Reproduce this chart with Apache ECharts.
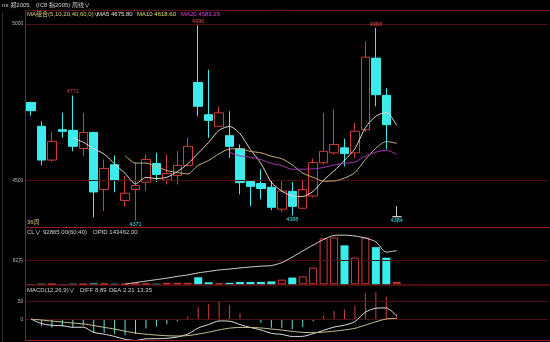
<!DOCTYPE html>
<html><head><meta charset="utf-8">
<script src="https://cdn.jsdelivr.net/npm/echarts@6/dist/echarts.min.js"></script>
<style>html,body{margin:0;padding:0;background:#000;overflow:hidden}#c{width:550px;height:342px;}</style>
</head><body><div id="c"></div>
<script>
// ---- data (weekly bars, 36 weeks) ----
const weeks = ['1','2','3','4','5','6','7','8','9','10','11','12','13','14','15','16','17','18','19','20','21','22','23','24','25','26','27','28','29','30','31','32','33','34','35','36'];
const opens  = [4749,4673,4565,4662,4660,4602,4653,4471,4550,4436,4471,4494,4554,4501,4516,4548,4813,4710,4673,4643,4601,4497,4490,4478,4408,4465,4411,4450,4556,4588,4604,4588,4662,4891,4772,4384];
const closes = [4723,4565,4625,4657,4609,4653,4463,4538,4500,4459,4484,4567,4519,4522,4548,4609,4737,4692,4716,4609,4493,4481,4474,4414,4466,4417,4471,4557,4593,4615,4586,4657,4894,4774,4678,4384];
const lows   = [4707,4548,4560,4637,4593,4577,4382,4402,4462,4417,4371,4466,4494,4487,4487,4546,4705,4636,4673,4572,4455,4418,4440,4405,4398,4388,4408,4445,4551,4583,4545,4573,4655,4737,4599,4384];
const highs  = [4752,4689,4656,4716,4771,4716,4656,4567,4580,4514,4557,4583,4588,4583,4593,4636,4996,4854,4737,4721,4615,4500,4535,4498,4498,4495,4503,4570,4716,4726,4633,4684,4944,4988,4795,4418];
const ma5  = ['-','-','-','-',4635.8,4621.8,4601.4,4584.0,4552.6,4522.6,4488.8,4509.6,4505.8,4510.2,4528.0,4553.0,4587.0,4621.6,4660.4,4672.6,4649.4,4598.2,4554.6,4494.2,4465.6,4450.4,4448.4,4465.0,4500.8,4530.6,4564.4,4601.6,4669.0,4705.2,4717.8,4675.8];
const ma10 = ['-','-','-','-','-','-','-','-','-',4579.2,4555.3,4555.5,4544.9,4531.4,4525.3,4520.9,4548.3,4563.7,4585.3,4600.3,4601.2,4592.6,4588.1,4577.3,4569.1,4549.9,4523.3,4509.8,4497.5,4498.1,4507.4,4525.0,4567.0,4603.0,4624.2,4618.6];
const ma20 = ['-','-','-','-','-','-','-','-','-','-','-','-','-','-','-','-','-','-','-',4589.75,4578.25,4574.05,4566.5,4554.35,4547.2,4535.4,4535.8,4536.75,4541.4,4549.2,4554.3,4558.8,4577.55,4590.15,4596.65,4583.25];
// volume (万) and open-interest line
const volumes = [1,2,1,1,2,1,3,2,2,1,2,2,2,5,5,5,24,7,3,5,8,8,8,10,16,23,27,57,157,160,133,91,160,127,91,8];
const openInt = ['-','-','-','-','-','-','-','-','-',1,6,11,16,21,27,32,39,44,49,52,56,59,62,64,74,93,114,134,153,167,168,165,158,145,110,115];
// MACD(12,26,9)
const diff = [0,-12.61,-17.56,-18.68,-23.18,-22.92,-37.62,-42.73,-49.27,-57.11,-60.60,-56.02,-55.62,-54.44,-50.82,-42.54,-25.36,-15.19,-5.14,-5.75,-15.41,-23.76,-30.59,-40.38,-43.44,-49.25,-48.94,-41.28,-31.93,-22.49,-17.15,-7.11,19.75,31.00,31.80,8.89];
const dea  = [0,-2.52,-5.53,-8.16,-11.17,-13.52,-18.34,-23.22,-28.43,-34.16,-39.45,-42.76,-45.33,-47.15,-47.88,-46.81,-42.52,-37.06,-30.68,-25.69,-23.63,-23.65,-25.04,-28.11,-31.18,-34.79,-37.62,-38.36,-37.08,-34.16,-30.76,-26.03,-16.87,-7.30,0.52,2.21];
const macd = [0,-20.18,-24.06,-21.04,-24.02,-18.80,-38.56,-39.02,-41.68,-45.90,-42.30,-26.52,-20.58,-14.58,-5.88,8.54,34.32,43.74,51.08,39.88,16.44,-0.22,-11.10,-24.54,-24.52,-28.92,-22.64,-5.84,10.30,23.34,27.22,37.84,73.24,76.60,62.56,13.35];
// tick labels
const priceTicks = [4500, 5000];
const volTicks = [82];
const macdTicks = [0, 50];
const highMarkIdx = [4, 16, 33];
const lowMarkIdx = [10, 25, 35];
const emptySlots = 14;

// ---- styles ----
const UP = '#d23c3c', DOWN = '#3cecec', GRIDC = '#4a1212', SEP = '#9a1a1a';
const FONT = "'Liberation Sans','Noto Sans CJK SC',sans-serif";
const axisCats = weeks.concat(Array.from({length: emptySlots}, (_, i) => 'e' + i));
const candleData = weeks.map((w, i) => [opens[i], closes[i], lows[i], highs[i]]);
const volData = volumes.map((v, i) => ({
  value: v,
  itemStyle: closes[i] >= opens[i] ? {color: '#000', borderColor: UP, borderWidth: 1} : {color: DOWN, borderColor: DOWN, borderWidth: 0}
}));
const macdData = macd.map(v => ({value: v, itemStyle: {color: v >= 0 ? UP : '#6cdcdc'}}));
const gridLine = vals => ({silent: true, symbol: 'none', label: {show: false}, lineStyle: {color: GRIDC, width: 1, type: 'solid'}, data: vals.map(v => ({yAxis: v}))});
const L = 25.78, W = 522.5;
const xAx = gi => ({type: 'category', gridIndex: gi, data: axisCats, boundaryGap: true, show: false});
const yAx = (gi, min, max, ticks, fmt) => ({type: 'value', gridIndex: gi, min, max, scale: true,
  axisLine: {show: false}, axisTick: {show: false}, splitLine: {show: false},
  axisLabel: {customValues: ticks, color: '#b8b8b8', fontSize: 5, margin: 2.5, fontFamily: FONT, formatter: fmt}});
const txt = (x, y, s, color) => ({type: 'text', x, y, silent: true, z: 100,
  style: {text: s, fill: color || '#d0d0d0', font: '6px ' + FONT, textVerticalAlign: 'middle'}});
const hline = (y, x1, color) => ({type: 'line', silent: true, z: 50, shape: {x1: x1, y1: y, x2: 550, y2: y}, style: {stroke: color, lineWidth: 1}});

const chart = echarts.init(document.getElementById('c'), null, {renderer: 'canvas'});
chart.setOption({
  backgroundColor: '#000',
  animation: false,
  grid: [
    {left: L, width: W, top: 8.4, height: 218.9},
    {left: L, width: W, top: 228.1, height: 56.2},
    {left: L, width: W, top: 284.3, height: 56.3}
  ],
  xAxis: [xAx(0), xAx(1), xAx(2)],
  yAxis: [
    yAx(0, 4350, 5050, priceTicks, v => String(v)),
    yAx(1, 0, 192, volTicks, v => v + '万'),
    yAx(2, -61, 99, macdTicks, v => String(v))
  ],
  series: [
    {type: 'candlestick', xAxisIndex: 0, yAxisIndex: 0, data: candleData, barWidth: 9,
     itemStyle: {color: '#000', color0: DOWN, borderColor: UP, borderColor0: DOWN, borderColorDoji: '#d0d0d0', borderWidth: 1},
     markLine: gridLine(priceTicks),
     markPoint: {symbol: 'circle', symbolSize: 0.1, silent: true,
       data: highMarkIdx.map(i => ({coord: [axisCats[i], highs[i]], value: highs[i], label: {position: 'top', distance: 1, color: '#e04848'}}))
         .concat(lowMarkIdx.map(i => ({coord: [axisCats[i], lows[i]], value: lows[i], label: {position: 'bottom', distance: 1, color: '#40e0e0'}}))),
       label: {show: true, fontSize: 5.5, fontFamily: FONT, formatter: p => p.value},
       itemStyle: {color: 'rgba(0,0,0,0)'}}},
    {type: 'line', xAxisIndex: 0, yAxisIndex: 0, data: ma5, symbol: 'none', smooth: 0.25, lineStyle: {color: '#e6d6cc', width: 1}, z: 5},
    {type: 'line', xAxisIndex: 0, yAxisIndex: 0, data: ma10, symbol: 'none', smooth: 0.25, lineStyle: {color: '#c8b47a', width: 1}, z: 5},
    {type: 'line', xAxisIndex: 0, yAxisIndex: 0, data: ma20, symbol: 'none', smooth: 0.25, lineStyle: {color: '#a838b8', width: 1}, z: 5},
    {type: 'bar', xAxisIndex: 1, yAxisIndex: 1, data: volData, barWidth: 8, markLine: gridLine(volTicks)},
    {type: 'line', xAxisIndex: 1, yAxisIndex: 1, data: openInt, symbol: 'none', smooth: 0.25, lineStyle: {color: '#d8d0d0', width: 1}, z: 5},
    {type: 'bar', xAxisIndex: 2, yAxisIndex: 2, data: macdData, barWidth: 1, markLine: gridLine(macdTicks)},
    {type: 'line', xAxisIndex: 2, yAxisIndex: 2, data: diff, symbol: 'none', smooth: 0.25, lineStyle: {color: '#e0e0e0', width: 1}, z: 5},
    {type: 'line', xAxisIndex: 2, yAxisIndex: 2, data: dea, symbol: 'none', smooth: 0.25, lineStyle: {color: '#c8c490', width: 1}, z: 5}
  ],
  graphic: [
    hline(10.5, 25, '#6a1616'), hline(227.5, 25, SEP), hline(285, 25, SEP), hline(340.5, 25, SEP),
    {type: 'line', silent: true, z: 50, shape: {x1: 25.5, y1: 10, x2: 25.5, y2: 341}, style: {stroke: SEP, lineWidth: 1}},
    {type: 'line', silent: true, z: 50, shape: {x1: 2.5, y1: 12, x2: 2.5, y2: 342}, style: {stroke: '#2a2a2a', lineWidth: 1}},
    txt(2, 5, 'ını 郑2005'), txt(36, 5, '(IC8 指2005)'), txt(72, 5, '周线∨'),
    txt(27, 14, 'MA组合(5,10,20,40,60,0)∨', '#d8d070'),
    txt(97, 14, 'MA5 ' + ma5[ma5.length - 1].toFixed(2), '#e0e0e0'),
    txt(137, 14, 'MA10 ' + ma10[ma10.length - 1].toFixed(2), '#e0e060'),
    txt(181, 14, 'MA20 ' + ma20[ma20.length - 1].toFixed(2), '#e040e0'),
    txt(27, 222, weeks.length + '周', '#d0c070'),
    txt(27, 232.5, 'CL∨'), txt(43, 232.5, '92865.00(60:40)'), txt(93, 232.5, 'OPID 143462.00'),
    txt(27, 290, 'MACD(12,26,9)∨'),
    txt(80, 290, 'DIFF ' + diff[diff.length - 1].toFixed(2)),
    txt(109, 290, 'DEA ' + dea[dea.length - 1].toFixed(2)),
    txt(137, 290, macd[macd.length - 1].toFixed(2))
  ]
});
</script></body></html>
